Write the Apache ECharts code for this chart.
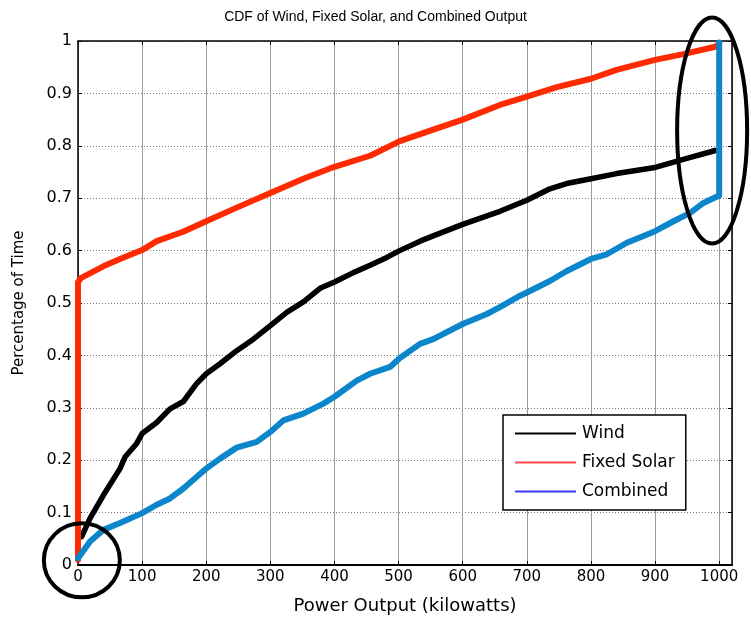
<!DOCTYPE html>
<html>
<head>
<meta charset="utf-8">
<title>CDF of Wind, Fixed Solar, and Combined Output</title>
<script src="https://cdn.jsdelivr.net/npm/echarts@6/dist/echarts.min.js"></script>
<style>
  html, body { margin: 0; padding: 0; background: #fff; }
  #chart { width: 751px; height: 620px; }
</style>
</head>
<body>
<div id="chart"></div>
<script>
// Power output (kW) and cumulative share of time for each source
const windX = [5.7, 18.7, 39.5, 65.5, 73.3, 91.6, 100, 122.7, 143.5, 164.3, 185, 200, 221.5, 247.5, 273.5, 300, 325.5, 351.5, 377.5, 400, 429.5, 455.5, 481.6, 500, 533.5, 554, 600, 658, 700, 736, 762, 800, 840, 897.5, 944, 994];
const windY = [0.054, 0.089, 0.133, 0.184, 0.206, 0.232, 0.251, 0.272, 0.298, 0.312, 0.346, 0.365, 0.384, 0.409, 0.431, 0.457, 0.482, 0.502, 0.528, 0.540, 0.558, 0.572, 0.587, 0.599, 0.618, 0.628, 0.650, 0.675, 0.696, 0.718, 0.728, 0.737, 0.747, 0.758, 0.774, 0.791];

const solarX = [0, 0, 5, 39.5, 65.5, 100, 122.7, 164, 200, 247.5, 300, 351.5, 400, 455.5, 502, 554, 600, 658, 700, 746.8, 800, 840, 900, 944, 994, 1000];
const solarY = [0.01, 0.54, 0.548, 0.570, 0.584, 0.601, 0.618, 0.636, 0.656, 0.682, 0.710, 0.737, 0.760, 0.781, 0.809, 0.831, 0.850, 0.878, 0.894, 0.912, 0.928, 0.945, 0.964, 0.975, 0.989, 0.995];

const combinedX = [0, 18.7, 39.5, 65.5, 100, 122.7, 143.5, 164.3, 200, 221.5, 247.5, 278.7, 300, 320.3, 351.5, 382.7, 400, 434.8, 455.5, 486.7, 502, 533.5, 554, 600, 637.6, 658, 689.5, 700, 736, 762.4, 800, 824.8, 856, 900, 928.7, 954.7, 975.5, 1000, 1000];
const combinedY = [0.013, 0.045, 0.067, 0.080, 0.099, 0.115, 0.127, 0.146, 0.184, 0.203, 0.224, 0.235, 0.254, 0.276, 0.289, 0.308, 0.321, 0.352, 0.365, 0.378, 0.395, 0.422, 0.431, 0.460, 0.479, 0.492, 0.514, 0.520, 0.542, 0.561, 0.584, 0.593, 0.615, 0.637, 0.656, 0.672, 0.691, 0.705, 0.997];

const xTicks = [0, 100, 200, 300, 400, 500, 600, 700, 800, 900, 1000];
const yTicks = [0, 0.1, 0.2, 0.3, 0.4, 0.5, 0.6, 0.7, 0.8, 0.9, 1];

const pairs = (xs, ys) => xs.map((x, i) => [x, ys[i]]);
const FONT = 'DejaVu Sans, Liberation Sans, Arial, sans-serif';
const TITLE_FONT = 'Liberation Sans, Arial, Helvetica, sans-serif';

const chart = echarts.init(document.getElementById('chart'), null, { renderer: 'canvas' });

const thin = (name, color, xs, ys) => ({
  name, type: 'line', data: pairs(xs, ys), symbol: 'none', z: 2,
  lineStyle: { color, width: 1 }, itemStyle: { color }, animation: false
});
const thick = (name, color, xs, ys, w) => ({
  name, type: 'line', data: pairs(xs, ys), symbol: 'none', z: 3,
  lineStyle: { color, width: w, join: 'round', cap: 'round' }, itemStyle: { color }, animation: false
});

const xLabel = v => {
  const r = Math.round(v);
  return (Math.abs(v - r) < 1e-6 && xTicks.indexOf(r) >= 0) ? String(r) : '';
};
const yLabel = v => {
  const hit = yTicks.find(t => Math.abs(t - v) < 1e-6);
  return hit === undefined ? '' : String(hit);
};

chart.setOption({
  animation: false,
  backgroundColor: '#fff',
  title: {
    text: 'CDF of Wind, Fixed Solar, and Combined Output',
    left: 'center', top: 5,
    textStyle: { fontFamily: TITLE_FONT, fontSize: 14, fontWeight: 'normal', color: '#000' }
  },
  grid: { left: 78, right: 19, top: 41, bottom: 53, containLabel: false },
  legend: {
    orient: 'vertical',
    left: 503, top: 415,
    padding: [10, 11, 10, 11],
    itemGap: 12,
    itemWidth: 61, itemHeight: 14,
    backgroundColor: '#fff',
    borderColor: '#000', borderWidth: 1.5,
    itemStyle: { opacity: 0 },
    textStyle: { fontFamily: FONT, fontSize: 17, color: '#000', padding: [0, 0, 0, 1] },
    data: ['Wind', 'Fixed Solar', 'Combined']
  },
  xAxis: [{
    type: 'value', min: 0, max: 1020, interval: 100,
    name: 'Power Output (kilowatts)', nameLocation: 'middle', nameGap: 32,
    nameTextStyle: { fontFamily: FONT, fontSize: 18, color: '#000' },
    axisLine: { show: true, onZero: false, lineStyle: { color: '#000', width: 2 } },
    axisTick: { show: true, inside: true, length: 4, lineStyle: { color: '#000' } },
    axisLabel: { fontFamily: FONT, fontSize: 15, color: '#000', margin: 5, formatter: xLabel, showMaxLabel: false },
    splitLine: { show: true, lineStyle: { color: '#9a9a9a', width: 1, type: 'solid' } }
  }, {
    type: 'value', position: 'top', min: 0, max: 1020, interval: 100,
    axisLine: { show: true, onZero: false, lineStyle: { color: '#000', width: 1.5 } },
    axisTick: { show: true, inside: true, length: 4, lineStyle: { color: '#000' } },
    axisLabel: { show: false },
    splitLine: { show: false }
  }],
  yAxis: [{
    type: 'value', min: 0, max: 1, interval: 0.1,
    name: 'Percentage of Time', nameLocation: 'middle', nameGap: 51,
    nameTextStyle: { fontFamily: FONT, fontSize: 15, color: '#000' },
    axisLine: { show: true, onZero: false, lineStyle: { color: '#000', width: 1.5 } },
    axisTick: { show: true, inside: true, length: 4, lineStyle: { color: '#000' } },
    axisLabel: { fontFamily: FONT, fontSize: 16, color: '#000', margin: 6, formatter: yLabel },
    splitLine: { show: true, lineStyle: { color: '#7a7a7a', width: 1, type: [1, 2] } }
  }, {
    type: 'value', position: 'right', min: 0, max: 1, interval: 0.1,
    axisLine: { show: true, onZero: false, lineStyle: { color: '#000', width: 1.5 } },
    axisTick: { show: true, inside: true, length: 4, lineStyle: { color: '#000' } },
    axisLabel: { show: false },
    splitLine: { show: false }
  }],
  series: [
    thin('Wind', '#000000', windX, windY),
    thin('Fixed Solar', '#ff4a4a', solarX, solarY),
    thin('Combined', '#3c3cff', combinedX, combinedY),
    thick('Wind trace', '#000000', windX, windY, 5.5),
    thick('Fixed Solar trace', '#ff2a00', solarX, solarY, 6),
    thick('Combined trace', '#0b86cb', combinedX, combinedY, 6)
  ]
});

// Ellipses marking the two ends of the distributions
function drawMarks() {
  const low = chart.convertToPixel({ gridIndex: 0 }, [6, 0.009]);
  const high = chart.convertToPixel({ gridIndex: 0 }, [989, 0.829]);
  chart.setOption({
    graphic: [
      { type: 'ellipse', z: 100, silent: true,
        shape: { cx: low[0], cy: low[1], rx: 38, ry: 37 },
        style: { fill: 'none', stroke: '#000', lineWidth: 4 } },
      { type: 'ellipse', z: 100, silent: true,
        shape: { cx: high[0], cy: high[1], rx: 35, ry: 113 },
        style: { fill: 'none', stroke: '#000', lineWidth: 4 } }
    ]
  });
}
drawMarks();
</script>
</body>
</html>
